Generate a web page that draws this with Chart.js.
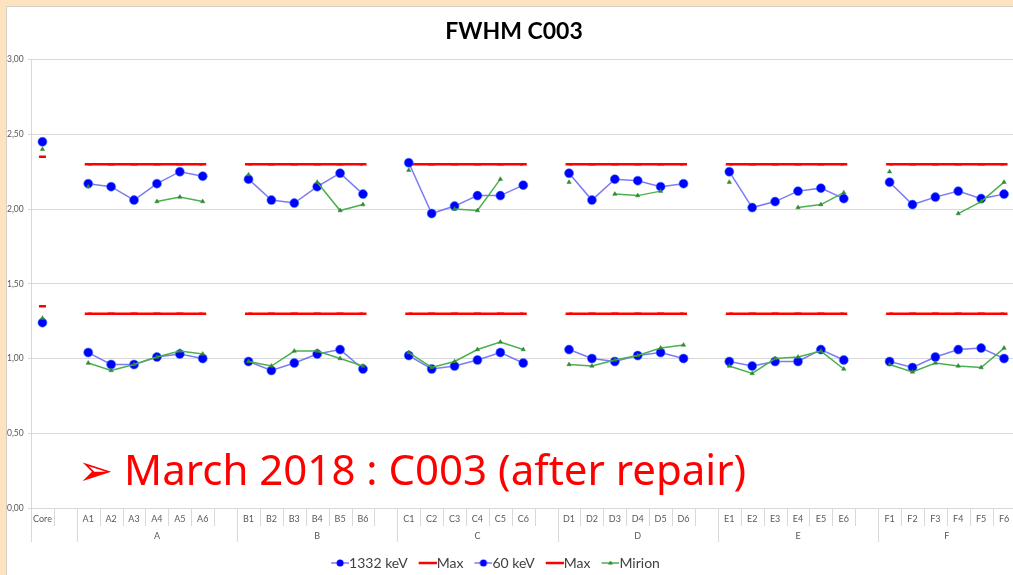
<!DOCTYPE html>
<html>
<head>
<meta charset="utf-8">
<title>FWHM C003</title>
<script src="https://cdn.jsdelivr.net/npm/chart.js@4.4.1/dist/chart.umd.min.js"></script>
<style>
  html, body { margin: 0; padding: 0; overflow: hidden; background: #fde3bf; }
  #panel { position: absolute; left: 6px; top: 6px; width: 1015px; height: 569px; background: #fff;
           border-left: 1px solid #d8d0c4; border-top: 1px solid #d8d0c4; }
  #note { position: absolute; left: 71px; top: 441px; color: #ff0000; white-space: nowrap;
          font: 42px/42px "Noto Sans", "DejaVu Sans", sans-serif; }
</style>
</head>
<body>
<div id="panel">
  <canvas id="fwhmChart" width="1015" height="569"></canvas>
  <div id="note">➢ March 2018 : C003 (after repair)</div>
</div>
<script>
// cells along the axis; blanks separate the detector groups
const cellLabels = ['Core', '',
    'A1', 'A2', 'A3', 'A4', 'A5', 'A6', '',
    'B1', 'B2', 'B3', 'B4', 'B5', 'B6', '',
    'C1', 'C2', 'C3', 'C4', 'C5', 'C6', '',
    'D1', 'D2', 'D3', 'D4', 'D5', 'D6', '',
    'E1', 'E2', 'E3', 'E4', 'E5', 'E6', '',
    'F1', 'F2', 'F3', 'F4', 'F5', 'F6'];

const yTickLabels = ['0,00', '0,50', '1,00', '1,50', '2,00', '2,50', '3,00'];

const kev1332 = [2.45, null,
    2.17, 2.15, 2.06, 2.17, 2.25, 2.22, null,
    2.20, 2.06, 2.04, 2.15, 2.24, 2.10, null,
    2.31, 1.97, 2.02, 2.09, 2.09, 2.16, null,
    2.24, 2.06, 2.20, 2.19, 2.15, 2.17, null,
    2.25, 2.01, 2.05, 2.12, 2.14, 2.07, null,
    2.18, 2.03, 2.08, 2.12, 2.07, 2.10];

const max1332 = [2.35, null,
    2.30, 2.30, 2.30, 2.30, 2.30, 2.30, null,
    2.30, 2.30, 2.30, 2.30, 2.30, 2.30, null,
    2.30, 2.30, 2.30, 2.30, 2.30, 2.30, null,
    2.30, 2.30, 2.30, 2.30, 2.30, 2.30, null,
    2.30, 2.30, 2.30, 2.30, 2.30, 2.30, null,
    2.30, 2.30, 2.30, 2.30, 2.30, 2.30];

const kev60 = [1.24, null,
    1.04, 0.96, 0.96, 1.01, 1.03, 1.00, null,
    0.98, 0.92, 0.97, 1.03, 1.06, 0.93, null,
    1.02, 0.93, 0.95, 0.99, 1.04, 0.97, null,
    1.06, 1.00, 0.98, 1.02, 1.04, 1.00, null,
    0.98, 0.95, 0.98, 0.98, 1.06, 0.99, null,
    0.98, 0.94, 1.01, 1.06, 1.07, 1.00];

const max60 = [1.35, null,
    1.30, 1.30, 1.30, 1.30, 1.30, 1.30, null,
    1.30, 1.30, 1.30, 1.30, 1.30, 1.30, null,
    1.30, 1.30, 1.30, 1.30, 1.30, 1.30, null,
    1.30, 1.30, 1.30, 1.30, 1.30, 1.30, null,
    1.30, 1.30, 1.30, 1.30, 1.30, 1.30, null,
    1.30, 1.30, 1.30, 1.30, 1.30, 1.30];

// Mirion reference values, 1332 keV band and 60 keV band
const mirionHigh = [2.40, null,
    2.15, null, null, 2.05, 2.08, 2.05, null,
    2.23, null, null, 2.18, 1.99, 2.03, null,
    2.26, null, 2.00, 1.99, 2.20, null, null,
    2.18, null, 2.10, 2.09, 2.12, null, null,
    2.18, null, null, 2.01, 2.03, 2.11, null,
    2.25, null, null, 1.97, 2.05, 2.18];

const mirionLow = [1.27, null,
    0.97, 0.92, 0.96, 1.01, 1.05, 1.03, null,
    0.98, 0.95, 1.05, 1.05, 1.00, 0.95, null,
    1.04, 0.94, 0.98, 1.06, 1.11, 1.06, null,
    0.96, 0.95, 0.99, 1.02, 1.07, 1.09, null,
    0.95, 0.90, 1.00, 1.01, 1.05, 0.93, null,
    0.96, 0.91, 0.97, 0.95, 0.94, 1.07];

const BLUE_LINE = 'rgba(90, 90, 245, 0.8)';
const BLUE_DOT = '#0000ff';
const RED = '#ff0000';
const GREEN = '#4cb050';
const AXIS_GREY = '#d9d9d9';
const TEXT_GREY = '#595959';

// group cells: blank cells stay with the group before them
const groups = [];
cellLabels.forEach((lab, i) => {
    const name = lab === '' ? null : (lab === 'Core' ? '' : lab[0]);
    const last = groups[groups.length - 1];
    if (name !== null && (!last || last.name !== name)) groups.push({ name, start: i, end: i });
    else last.end = i;
});
const groupEdges = groups.map(g => g.start).concat([cellLabels.length]);

const axisDecor = {
    id: 'axisDecor',
    afterLayout(chart) {
        // Excel centres its legend a little left of the page centre
        const lg = chart.legend;
        lg.left -= 19;
        lg.right -= 19;
        lg.top += 4;
        lg.bottom += 4;
    },
    afterDraw(chart) {
        const xs = chart.scales.x;
        const ctx = chart.ctx;
        const top = xs.top;
        ctx.save();
        ctx.strokeStyle = AXIS_GREY;
        ctx.lineWidth = 1;
        for (let i = 0; i <= cellLabels.length; i++) {
            const px = Math.round(xs.getPixelForValue(i - 0.5)) + 0.5;
            const len = groupEdges.includes(i) ? 34 : 18;
            ctx.beginPath();
            ctx.moveTo(px, top);
            ctx.lineTo(px, top + len);
            ctx.stroke();
        }
        ctx.fillStyle = TEXT_GREY;
        ctx.font = '9px Lato';
        ctx.textAlign = 'center';
        ctx.textBaseline = 'middle';
        groups.forEach(g => {
            ctx.fillText(g.name, xs.getPixelForValue((g.start + g.end) / 2), top + 28);
        });
        ctx.restore();
    }
};

// legend glyph: line with marker, drawn in the right part so the text sits close to it
function legendIcon(color, marker) {
    const c = document.createElement('canvas');
    c.width = 26;
    c.height = 10;
    const g = c.getContext('2d');
    g.strokeStyle = color;
    g.lineWidth = marker === 'none' ? 2.5 : 1.5;
    g.beginPath();
    g.moveTo(8, 5);
    g.lineTo(26, 5);
    g.stroke();
    if (marker === 'circle') {
        g.fillStyle = BLUE_DOT;
        g.beginPath();
        g.arc(17, 5, 3.5, 0, Math.PI * 2);
        g.fill();
    } else if (marker === 'triangle') {
        g.fillStyle = '#2e8b2e';
        g.beginPath();
        g.moveTo(17, 2.5);
        g.lineTo(19.5, 6.5);
        g.lineTo(14.5, 6.5);
        g.closePath();
        g.fill();
    }
    return c;
}

const icons = [
    legendIcon(BLUE_LINE, 'circle'),
    legendIcon(RED, 'none'),
    legendIcon(BLUE_LINE, 'circle'),
    legendIcon(RED, 'none'),
    legendIcon(GREEN, 'triangle')
];

function kevSet(label, data) {
    return {
        label, data,
        borderColor: BLUE_LINE, borderWidth: 1.5,
        pointStyle: 'circle', pointRadius: 4.5,
        pointBackgroundColor: BLUE_DOT, pointBorderColor: 'rgba(60, 120, 255, 0.6)', pointBorderWidth: 1,
        order: 2
    };
}
function maxSet(data) {
    return {
        label: 'Max', data,
        borderColor: RED, borderWidth: 2.5,
        pointStyle: 'line', pointRadius: 3.5, pointBorderWidth: 2.5, pointBorderColor: RED,
        order: 3
    };
}
function mirionSet(data) {
    return {
        label: 'Mirion', data,
        borderColor: GREEN, borderWidth: 1.5,
        pointStyle: 'triangle', pointRadius: 2.5,
        pointBackgroundColor: '#2e8b2e', pointBorderColor: '#2e8b2e', pointBorderWidth: 0.5,
        order: 1
    };
}

Chart.defaults.font.family = 'Lato';

new Chart(document.getElementById('fwhmChart'), {
    type: 'line',
    data: {
        labels: cellLabels,
        datasets: [
            kevSet('1332 keV', kev1332),
            maxSet(max1332),
            kevSet('60 keV', kev60),
            maxSet(max60),
            mirionSet(mirionHigh),
            mirionSet(mirionLow)
        ]
    },
    options: {
        responsive: false,
        animation: false,
        spanGaps: false,
        layout: { padding: { left: 0, right: 1, top: 0, bottom: 0 } },
        plugins: {
            title: {
                display: true,
                text: 'FWHM C003',
                color: '#000',
                font: { size: 23, weight: 'bold' },
                padding: { top: 11, bottom: 14 }
            },
            legend: {
                position: 'bottom',
                labels: {
                    usePointStyle: true,
                    pointStyleWidth: 12,
                    color: '#404040',
                    font: { size: 14 },
                    padding: 10,
                    generateLabels(chart) {
                        return Chart.defaults.plugins.legend.labels.generateLabels(chart)
                            .filter(item => item.datasetIndex < 5)
                            .sort((a, b) => a.datasetIndex - b.datasetIndex)
                            .map(item => Object.assign(item, { pointStyle: icons[item.datasetIndex] }));
                    }
                }
            },
            tooltip: { enabled: false }
        },
        scales: {
            x: {
                type: 'category',
                offset: true,
                border: { display: true, color: AXIS_GREY },
                grid: { display: false },
                ticks: {
                    autoSkip: false, maxRotation: 0, minRotation: 0,
                    color: TEXT_GREY, font: { size: 9 }, padding: -2
                },
                afterFit(scale) { scale.height = 34; }
            },
            y: {
                min: 0,
                max: 3,
                border: { display: true, color: AXIS_GREY },
                grid: { color: AXIS_GREY, tickLength: 3 },
                ticks: {
                    stepSize: 0.5,
                    crossAlign: 'far',
                    color: TEXT_GREY,
                    font: { size: 8.5 },
                    padding: 2,
                    callback: (v, i) => yTickLabels[i]
                },
                afterFit(scale) { scale.width = 24; }
            }
        }
    },
    plugins: [axisDecor]
});
</script>
</body>
</html>
